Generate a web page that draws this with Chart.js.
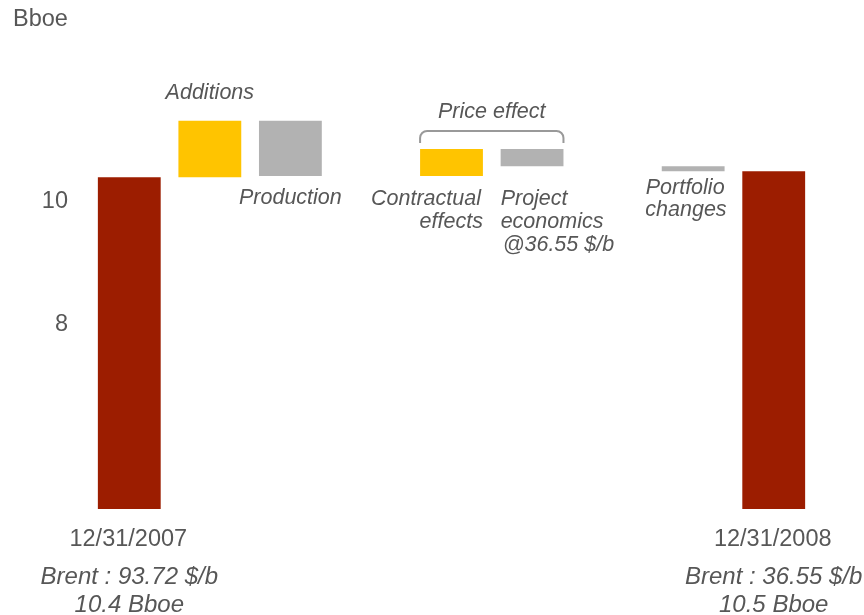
<!DOCTYPE html>
<html>
<head>
<meta charset="utf-8">
<script src="https://cdn.jsdelivr.net/npm/chart.js@4/dist/chart.umd.min.js"></script>
<style>
  html, body { margin: 0; padding: 0; background: #ffffff; }
  #wrap { width: 864px; height: 615px; position: relative; }
</style>
</head>
<body>
<div id="wrap"><canvas id="chart" width="864" height="615"></canvas></div>
<script>
// Reserves bridge, in Bboe
const periods = ['12/31/2007', '12/31/2008'];
const brentPrices = ['Brent : 93.72 $/b', 'Brent : 36.55 $/b'];
const reserves = [10.4, 10.5];
const steps = ['Additions', 'Production', 'Contractual effects', 'Project economics', 'Portfolio changes'];
const deltas = [0.92, -0.90, 0.44, -0.28, -0.08];
const yTicks = [8, 10];

const RED = '#9c1d00';
const YELLOW = '#ffc400';
const GREY = '#b2b2b2';
const TEXT = '#575757';
const FONT = '"Liberation Sans", Arial, sans-serif';

// Slot order along the axis: opening total, steps (with spacer slots), closing total
const slotOrder = ['open', 0, 1, null, 2, 3, null, 4, 'close'];

const labels = [];
const ranges = [];
const colors = [];
let running = reserves[0];
slotOrder.forEach(function (s) {
  if (s === 'open') {
    labels.push(periods[0]); ranges.push([0, reserves[0]]); colors.push(RED);
  } else if (s === 'close') {
    labels.push(periods[1]); ranges.push([0, reserves[1]]); colors.push(RED);
  } else if (s === null) {
    labels.push(''); ranges.push(null); colors.push('rgba(0,0,0,0)');
  } else {
    const next = running + deltas[s];
    labels.push(steps[s]); ranges.push([running, next]);
    colors.push(s === 0 || s === 2 ? YELLOW : GREY);
    running = next;
  }
});

function barBox(chart, slot) {
  const el = chart.getDatasetMeta(0).data[slot];
  const p = el.getProps(['x', 'y', 'base', 'width'], true);
  return {
    x: p.x,
    left: p.x - p.width / 2,
    right: p.x + p.width / 2,
    top: Math.min(p.y, p.base),
    bottom: Math.max(p.y, p.base)
  };
}

const annotations = {
  id: 'annotations',
  afterDatasetsDraw(chart) {
    const ctx = chart.ctx;
    const area = chart.chartArea;
    ctx.save();
    ctx.fillStyle = TEXT;
    ctx.textBaseline = 'middle';

    // unit label
    ctx.font = '23.5px ' + FONT;
    ctx.textAlign = 'left';
    ctx.fillText('Bboe', 13, 20);

    ctx.font = 'italic 21.5px ' + FONT;

    const add = barBox(chart, 1);
    ctx.textAlign = 'center';
    ctx.fillText(steps[0], add.x, add.top - 28);

    const prod = barBox(chart, 2);
    ctx.fillText(steps[1], prod.x, prod.bottom + 22);

    const con = barBox(chart, 4);
    ctx.textAlign = 'right';
    ctx.fillText('Contractual', con.right - 2, con.bottom + 23);
    ctx.fillText('effects', con.right, con.bottom + 46);

    const proj = barBox(chart, 5);
    ctx.textAlign = 'left';
    ctx.fillText('Project', proj.left, con.bottom + 23);
    ctx.fillText('economics', proj.left, con.bottom + 46);
    ctx.fillText('@' + brentPrices[1].split(': ')[1], proj.left + 2, con.bottom + 69);

    // price effect bracket over the two price-driven steps
    const bTop = Math.min(con.top, proj.top) - 18;
    const bBot = bTop + 12;
    const r = 7;
    ctx.strokeStyle = '#999999';
    ctx.lineWidth = 2;
    ctx.beginPath();
    ctx.moveTo(con.left, bBot);
    ctx.lineTo(con.left, bTop + r);
    ctx.arcTo(con.left, bTop, con.left + r, bTop, r);
    ctx.lineTo(proj.right - r, bTop);
    ctx.arcTo(proj.right, bTop, proj.right, bTop + r, r);
    ctx.lineTo(proj.right, bBot);
    ctx.stroke();
    ctx.textAlign = 'center';
    ctx.fillText('Price effect', (con.left + proj.right) / 2, bTop - 19);

    const port = barBox(chart, 7);
    ctx.textAlign = 'right';
    ctx.fillText('Portfolio', port.right, port.bottom + 17);
    ctx.fillText('changes', port.right + 2, port.bottom + 39);

    // totals captions under the axis
    [0, 8].forEach(function (slot, k) {
      const b = barBox(chart, slot);
      ctx.textAlign = 'center';
      ctx.font = '23.5px ' + FONT;
      ctx.fillText(periods[k], b.x - 1, area.bottom + 31);
      ctx.font = 'italic 24px ' + FONT;
      ctx.fillText(brentPrices[k], b.x, area.bottom + 68);
      ctx.fillText(reserves[k].toFixed(1) + ' Bboe', b.x, area.bottom + 96);
    });
    ctx.restore();
  }
};

new Chart(document.getElementById('chart'), {
  type: 'bar',
  data: {
    labels: labels,
    datasets: [{
      data: ranges,
      backgroundColor: colors,
      borderWidth: 0,
      categoryPercentage: 1,
      barPercentage: 0.78
    }]
  },
  options: {
    responsive: false,
    animation: false,
    layout: { padding: { top: 79, right: 50, bottom: 106, left: 0 } },
    plugins: { legend: { display: false }, tooltip: { enabled: false } },
    scales: {
      x: {
        display: true,
        grid: { display: false, drawTicks: false },
        border: { display: false },
        ticks: { display: false },
        afterFit(scale) { scale.height = 0; }
      },
      y: {
        min: 5,
        max: 12,
        grid: { display: false, drawTicks: false },
        border: { display: false },
        afterBuildTicks(scale) { scale.ticks = yTicks.map(v => ({ value: v })); },
        afterFit(scale) { scale.width = 89; },
        ticks: {
          padding: 21,
          color: TEXT,
          font: { family: FONT, size: 23.5 },
          callback: v => String(v)
        }
      }
    }
  },
  plugins: [annotations]
});
</script>
</body>
</html>
